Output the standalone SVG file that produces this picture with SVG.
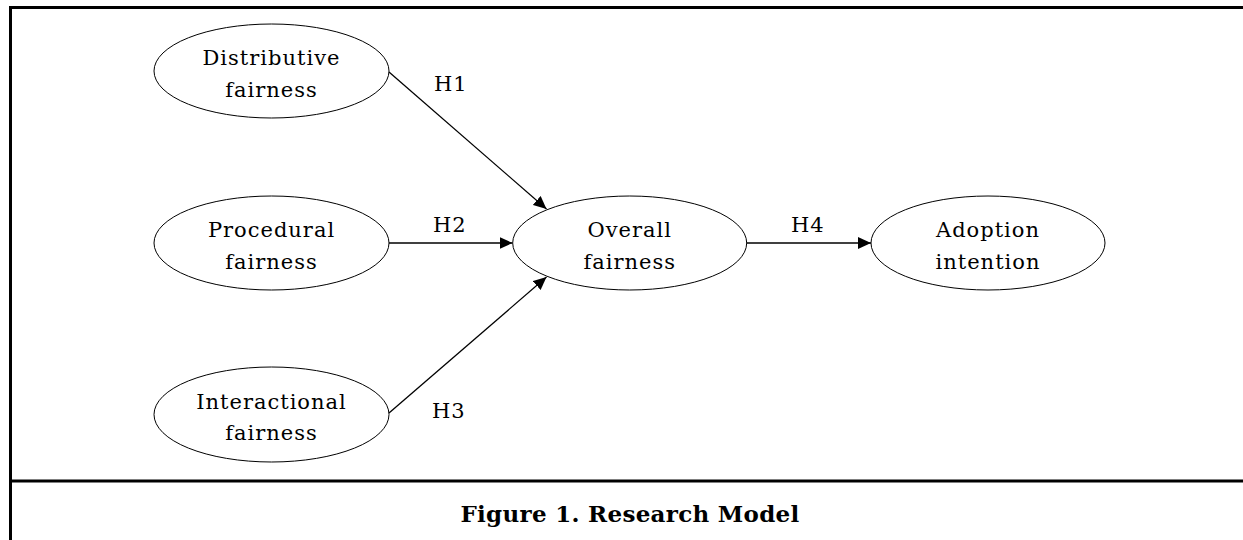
<svg xmlns="http://www.w3.org/2000/svg" width="1243" height="540" viewBox="0 0 1243 540">
<defs>
<style>
.node ellipse{fill:#fff;stroke:#000;stroke-width:1}
.lbl{font-family:"DejaVu Serif","Liberation Serif",serif;font-size:21px;fill:#000;text-anchor:middle;letter-spacing:1px}
.h{font-family:"DejaVu Serif","Liberation Serif",serif;font-size:21px;fill:#000;letter-spacing:1px}
.edge{stroke:#000;stroke-width:1.3;fill:none;marker-end:url(#arr)}
.frame{stroke:#000;stroke-width:3;fill:none}
.cap{font-family:"DejaVu Serif","Liberation Serif",serif;font-size:23px;font-weight:bold;fill:#000;text-anchor:middle;letter-spacing:0.3px}
</style>
<marker id="arr" markerUnits="userSpaceOnUse" markerWidth="14" markerHeight="12" refX="13" refY="6" orient="auto">
<path d="M0,0 L13,6 L0,12 z" fill="#000"/>
</marker>
</defs>
<rect width="1243" height="540" fill="#fff"/>
<g id="frame">
<line class="frame" x1="9" y1="7.5" x2="1243" y2="7.5"/>
<line class="frame" x1="10.5" y1="6" x2="10.5" y2="540"/>
<line class="frame" x1="10.5" y1="481" x2="1243" y2="481"/>
</g>
<g id="connectors">
<line class="edge" x1="389" y1="72" x2="546.5" y2="209"/>
<line class="edge" x1="389" y1="243" x2="512.5" y2="243"/>
<line class="edge" x1="389" y1="413" x2="546.5" y2="277"/>
<line class="edge" x1="747" y1="243" x2="871" y2="243"/>
<text class="h" x="434" y="91">H1</text>
<text class="h" x="433" y="231.5">H2</text>
<text class="h" x="432" y="417.5">H3</text>
<text class="h" x="791" y="231.5">H4</text>
</g>
<g id="distributive" class="node">
<ellipse cx="271.5" cy="71" rx="117.5" ry="47"/>
<text class="lbl" x="271.5" y="65">Distributive</text>
<text class="lbl" x="271.5" y="97">fairness</text>
</g>
<g id="procedural" class="node">
<ellipse cx="271.5" cy="243" rx="117.5" ry="47"/>
<text class="lbl" x="271.5" y="237">Procedural</text>
<text class="lbl" x="271.5" y="268.5">fairness</text>
</g>
<g id="interactional" class="node">
<ellipse cx="271.5" cy="414.5" rx="117.5" ry="47.5"/>
<text class="lbl" x="271.5" y="409">Interactional</text>
<text class="lbl" x="271.5" y="440">fairness</text>
</g>
<g id="overall" class="node">
<ellipse cx="629.7" cy="243" rx="117" ry="47"/>
<text class="lbl" x="629.7" y="237">Overall</text>
<text class="lbl" x="629.7" y="268.5">fairness</text>
</g>
<g id="adoption" class="node">
<ellipse cx="988" cy="243" rx="117" ry="47"/>
<text class="lbl" x="988" y="237">Adoption</text>
<text class="lbl" x="988" y="268.5">intention</text>
</g>
<g id="caption">
<text class="cap" x="630" y="521.5">Figure 1. Research Model</text>
</g>
</svg>
